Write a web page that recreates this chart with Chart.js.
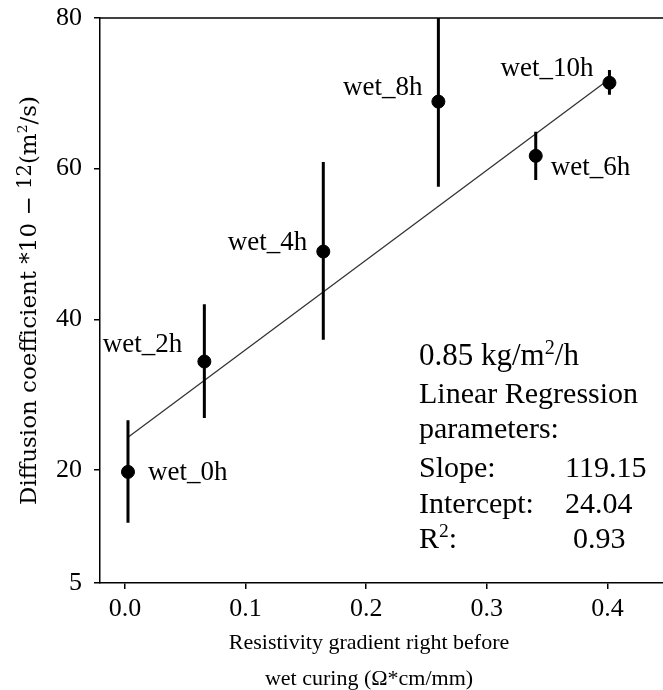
<!DOCTYPE html>
<html>
<head>
<meta charset="utf-8">
<script src="https://cdn.jsdelivr.net/npm/chart.js@4/dist/chart.umd.min.js"></script>
<style>
  body { margin: 0; background: #fff; }
</style>
</head>
<body>
<canvas id="diffChart" width="663" height="690"></canvas>
<script>
// samples (hours of wet curing) and their measured values
const sampleLabels = ['wet_0h', 'wet_2h', 'wet_4h', 'wet_8h', 'wet_6h', 'wet_10h'];
const gradient = [0.0025, 0.0658, 0.1644, 0.2598, 0.3405, 0.4016];
const diffusion = [19.75, 34.4, 49.0, 68.9, 61.7, 71.4];
const errLow = [13.0, 26.9, 37.3, 57.6, 58.5, 69.8];
const errHigh = [26.6, 42.0, 60.9, 80.5, 64.9, 73.1];

const xTicks = [0.0, 0.1, 0.2, 0.3, 0.4];
const yTicks = [5, 20, 40, 60, 80];

// fitted line
const slope = 119.15;
const intercept = 24.04;
const rSquared = 0.93;

// where each sample name sits next to its point: [dx, dy, align]
const labelPlace = [
  [20, 1, 'left'],
  [-22, -17, 'right'],
  [-16, -9, 'right'],
  [-16, -14, 'right'],
  [15, 12, 'left'],
  [-16, -14, 'right']
];

const SERIF = '"Liberation Serif", "Times New Roman", serif';

const points = gradient.map((x, i) => ({ x: x, y: diffusion[i] }));

// error bars as one broken line: low -> high, then a gap
const errSegments = [];
gradient.forEach((x, i) => {
  errSegments.push({ x: x, y: errLow[i] });
  errSegments.push({ x: x, y: errHigh[i] });
  errSegments.push({ x: x, y: null });
});

const xFirst = Math.min(...gradient);
const xLast = Math.max(...gradient);
const fitLine = [
  { x: xFirst, y: intercept + slope * xFirst },
  { x: xLast, y: intercept + slope * xLast }
];

// draws a run of text pieces, some of them raised and smaller
function drawRich(ctx, parts, x, y, size, family, align) {
  const widths = parts.map(p => {
    ctx.font = (size * (p.scale || 1)) + 'px ' + family;
    return ctx.measureText(p.t).width;
  });
  const total = widths.reduce((a, b) => a + b, 0);
  let cx = align === 'center' ? x - total / 2 : x;
  ctx.textAlign = 'left';
  ctx.textBaseline = 'alphabetic';
  parts.forEach((p, i) => {
    ctx.font = (size * (p.scale || 1)) + 'px ' + family;
    ctx.fillText(p.t, cx, y - (p.rise || 0) * size);
    cx += widths[i];
  });
}

const decorations = {
  id: 'decorations',
  afterDatasetsDraw(chart) {
    const ctx = chart.ctx;
    const area = chart.chartArea;
    const xs = chart.scales.x;
    const ys = chart.scales.y;
    ctx.save();
    ctx.fillStyle = '#000';

    // top spine
    ctx.strokeStyle = '#000';
    ctx.lineWidth = 1.5;
    ctx.beginPath();
    ctx.moveTo(area.left, area.top);
    ctx.lineTo(area.right, area.top);
    ctx.stroke();

    // sample names
    ctx.font = '27px ' + SERIF;
    ctx.textBaseline = 'middle';
    sampleLabels.forEach((name, i) => {
      const px = xs.getPixelForValue(gradient[i]);
      const py = ys.getPixelForValue(diffusion[i]);
      const [dx, dy, align] = labelPlace[i];
      ctx.textAlign = align;
      ctx.fillText(name, px + dx, py + dy);
    });

    // regression summary
    const tx = 419, vx = 565;
    drawRich(ctx, [{ t: '0.85 kg/m' }, { t: '2', scale: 0.65, rise: 0.36 }, { t: '/h' }], tx, 365, 31, SERIF, 'left');
    ctx.font = '30px ' + SERIF;
    ctx.textAlign = 'left';
    ctx.textBaseline = 'alphabetic';
    ctx.fillText('Linear Regression', tx, 403);
    ctx.fillText('parameters:', tx, 438);
    ctx.fillText('Slope:', tx, 477);
    ctx.fillText(slope.toFixed(2), vx, 477);
    ctx.fillText('Intercept:', tx, 513);
    ctx.fillText(intercept.toFixed(2), vx, 513);
    drawRich(ctx, [{ t: 'R' }, { t: '2', scale: 0.65, rise: 0.36 }, { t: ':' }], tx, 548, 30, SERIF, 'left');
    ctx.font = '30px ' + SERIF;
    ctx.fillText(rSquared.toFixed(2), vx + 8, 548);

    // x axis title
    ctx.font = '22px ' + SERIF;
    ctx.textAlign = 'center';
    ctx.fillText('Resistivity gradient right before', 369, 649);
    ctx.fillText('wet curing (\u03A9*cm/mm)', 369, 685);

    // y axis title, rotated
    ctx.translate(36, (area.top + area.bottom) / 2);
    ctx.rotate(-Math.PI / 2);
    drawRich(ctx, [
      { t: 'Diffusion coefficient *10 \u2212 ' },
      { t: '12', scale: 0.85, rise: 0.2 },
      { t: '(m' },
      { t: '2', scale: 0.6, rise: 0.4 },
      { t: '/s)' }
    ], 0, 0, 23, '"DejaVu Serif", serif', 'center');
    ctx.restore();
  }
};

const axisFont = { family: SERIF, size: 26 };

// keep the plot frame exactly where the layout padding puts it
function noLabelPadding(s) {
  s.paddingTop = 0;
  s.paddingBottom = 0;
  s.paddingLeft = 0;
  s.paddingRight = 0;
}

new Chart(document.getElementById('diffChart'), {
  type: 'scatter',
  data: {
    datasets: [
      {
        type: 'scatter',
        data: points,
        backgroundColor: '#000',
        borderColor: '#000',
        pointRadius: 6.5,
        pointHoverRadius: 6.5,
        order: 0
      },
      {
        type: 'line',
        data: errSegments,
        borderColor: '#000',
        borderWidth: 3,
        pointRadius: 0,
        spanGaps: false,
        fill: false,
        order: 1
      },
      {
        type: 'line',
        data: fitLine,
        borderColor: '#333',
        borderWidth: 1.3,
        pointRadius: 0,
        fill: false,
        order: 2
      }
    ]
  },
  options: {
    responsive: false,
    animation: false,
    devicePixelRatio: 1,
    layout: { autoPadding: false, padding: { top: 18, right: 0, bottom: 0, left: 0 } },
    plugins: {
      legend: { display: false },
      tooltip: { enabled: false }
    },
    scales: {
      x: {
        type: 'linear',
        min: -0.0207,
        max: 0.446,
        afterBuildTicks: s => { s.ticks = xTicks.map(v => ({ value: v })); },
        afterFit: s => { s.height = 107; noLabelPadding(s); },
        ticks: { font: axisFont, color: '#000', padding: 5, callback: v => v.toFixed(1) },
        grid: { drawOnChartArea: false, drawTicks: true, tickLength: 6, color: '#000', lineWidth: 1.5 },
        border: { color: '#000', width: 1.5 }
      },
      y: {
        type: 'linear',
        min: 5,
        max: 80,
        afterBuildTicks: s => { s.ticks = yTicks.map(v => ({ value: v })); },
        afterFit: s => { s.width = 100; noLabelPadding(s); },
        ticks: { font: axisFont, color: '#000', padding: 12, callback: v => String(v) },
        grid: { drawOnChartArea: false, drawTicks: true, tickLength: 6, color: '#000', lineWidth: 1.5 },
        border: { color: '#000', width: 1.5 }
      }
    }
  },
  plugins: [decorations]
});
</script>
</body>
</html>
